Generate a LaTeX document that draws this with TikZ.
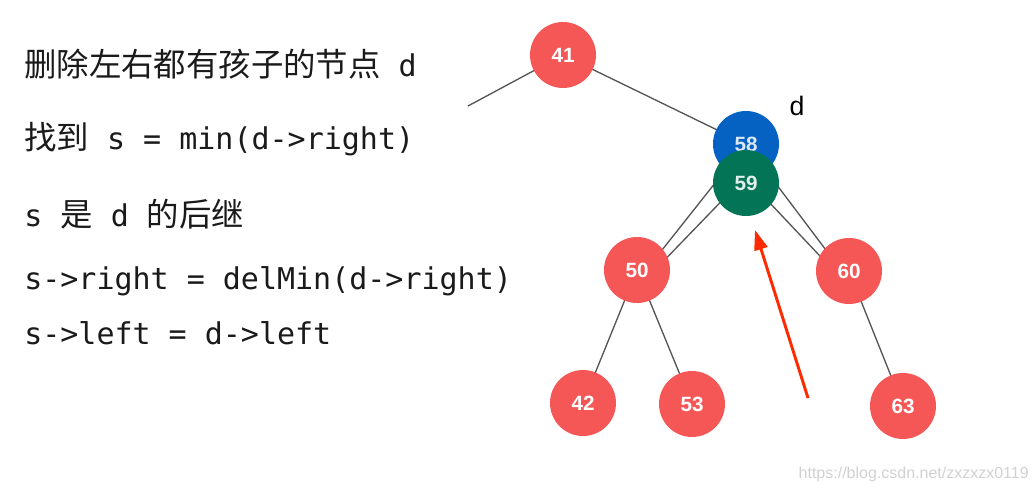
\documentclass[tikz,border=0pt]{standalone}
\usepackage{fontspec}
\setmainfont{Liberation Sans}
\newfontfamily\codefont{DejaVu Sans Mono}
\newfontfamily\cjk{Noto Sans CJK SC}[Scale=1.08]
\usetikzlibrary{arrows.meta}
\definecolor{nred}{HTML}{F55757}
\definecolor{nblue}{HTML}{0561C2}
\definecolor{ngreen}{HTML}{037556}
\definecolor{edgegray}{HTML}{555555}
\definecolor{arrowred}{HTML}{FF2A00}
\definecolor{txt}{HTML}{1A1A1A}
\tikzset{
  tnode/.style={circle,minimum size=49.5pt,inner sep=0pt,text=white,
    font=\fontsize{15.5}{15.5}\selectfont\bfseries},
  rednode/.style={tnode,fill=nred},
  bluenode/.style={tnode,fill=nblue,text=white!85!nblue},
  greennode/.style={tnode,fill=ngreen,text=white!88!ngreen},
  edge/.style={draw=edgegray,line width=1pt},
  codeline/.style={anchor=base west,inner sep=0pt,text=txt,
    font=\codefont\fontsize{22.5}{27}\selectfont},
}
\begin{document}
\begin{tikzpicture}[x=0.75pt,y=-0.75pt]
\useasboundingbox (0,0) rectangle (1035,491);
% text
\node[codeline] (t1) at (24,77) {\cjk 删除左右都有孩子的节点\codefont{} d};
\node[codeline] (t2) at (24,150) {{\cjk 找到} s = min(d->right)};
\node[codeline] (t3) at (24,227) {s {\cjk 是} d {\cjk 的后继}};
\node[codeline] (t4) at (24,290) {s->right = delMin(d->right)};
\node[codeline] (t5) at (24,345) {s->left = d->left};
% node positions
\coordinate (p41) at (563,55);
\coordinate (p58) at (746,144);
\coordinate (p59) at (746,183);
\coordinate (p50) at (637,270);
\coordinate (p60) at (849,271);
\coordinate (p42) at (583,403);
\coordinate (p53) at (692,404);
\coordinate (p63) at (903,406);
\coordinate (lend) at (468,106);
% attachment points of the doubled edges
\coordinate (q50a) at (647,269);
\coordinate (q50b) at (653,272);
\coordinate (q60a) at (841,270);
\coordinate (q60b) at (835,272);
\coordinate (q59l) at (739,183);
\coordinate (q59r) at (751,183);
% edges
\draw[edge] (p41) -- (lend);
\draw[edge] (p41) -- (p58);
\draw[edge] (q50a) -- (p58);
\draw[edge] (q50b) -- (q59l);
\draw[edge] (q60a) -- (p58);
\draw[edge] (q60b) -- (q59r);
\draw[edge] (p50) -- (p42);
\draw[edge] (p50) -- (p53);
\draw[edge] (p60) -- (p63);
% nodes
\node[rednode] (n41) at (p41) {41};
\node[bluenode] (n58) at (p58) {58};
\node[greennode] (n59) at (p59) {59};
\node[rednode] (n50) at (p50) {50};
\node[rednode] (n60) at (p60) {60};
\node[rednode] (n42) at (p42) {42};
\node[rednode] (n53) at (p53) {53};
\node[rednode] (n63) at (p63) {63};
\node[font=\fontsize{20}{20}\selectfont,text=black] (dl) at (797,106) {d};
% red arrow
\coordinate (as) at (808,398);
\coordinate (ae) at (755,230);
\draw[arrowred,line width=2.2pt,-{Triangle[length=15pt,width=10pt]}] (as) -- (ae);
% watermark
\node[anchor=base east,inner sep=0pt,text=black!18,font=\fontsize{12}{12}\selectfont] (wm) at (1029,478) {https://blog.csdn.net/zxzxzx0119};
\end{tikzpicture}
\end{document}
